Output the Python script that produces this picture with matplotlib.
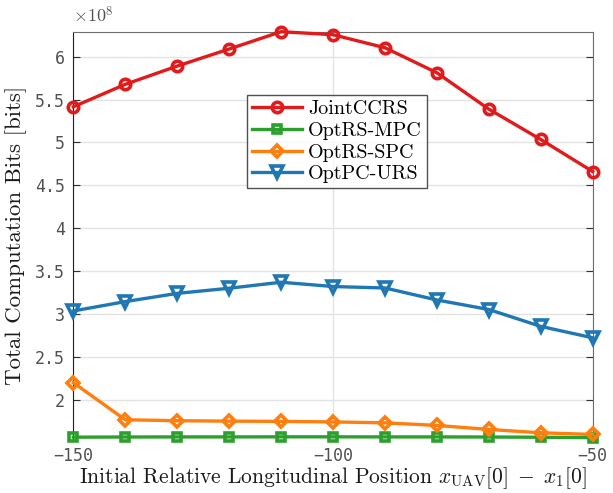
import matplotlib
matplotlib.use('Agg')
import matplotlib.pyplot as plt
import numpy as np

# initial relative longitudinal position x_UAV[0] - x_1[0]
positions = [-150, -140, -130, -120, -110, -100, -90, -80, -70, -60, -50]

# total computation bits, in units of 1e8 bits
joint_ccrs = [5.416, 5.678, 5.891, 6.090, 6.292, 6.257, 6.105, 5.813, 5.389, 5.035, 4.661]
optrs_mpc = [1.563, 1.565, 1.566, 1.566, 1.567, 1.567, 1.566, 1.566, 1.565, 1.562, 1.558]
optrs_spc = [2.199, 1.766, 1.755, 1.750, 1.747, 1.741, 1.730, 1.700, 1.653, 1.614, 1.595]
optpc_urs = [3.035, 3.144, 3.240, 3.300, 3.370, 3.320, 3.303, 3.163, 3.052, 2.855, 2.722]

y_ticks = [2, 2.5, 3, 3.5, 4, 4.5, 5, 5.5, 6]
x_ticks = [-150, -100, -50]

series = [
    ('JointCCRS', joint_ccrs, '#e31a1c', 'o', 7.5),
    ('OptRS-MPC', optrs_mpc, '#2ca02c', 's', 6.0),
    ('OptRS-SPC', optrs_spc, '#ff7f0e', 'D', 6.5),
    ('OptPC-URS', optpc_urs, '#1f77b4', 'v', 8.0),
]

plt.rcParams['mathtext.fontset'] = 'cm'
label_font = 'cmr10'
tick_font = 'DejaVu Sans Mono'
tick_color = '#505050'

fig = plt.figure(figsize=(6.13, 4.93), dpi=100)
ax = fig.add_axes([0.1196, 0.1075, 0.8473, 0.8282])

for name, values, color, marker, ms in series:
    ax.plot(positions, values, color=color, linewidth=2.4, marker=marker,
            markersize=ms, markerfacecolor='none', markeredgecolor=color,
            markeredgewidth=2.6, label=name, clip_on=False, zorder=3)

ax.set_xlim(-150, -50)
ax.set_ylim(1.53, 6.292)
ax.set_xticks(x_ticks)
ax.set_yticks(y_ticks)
ax.set_xticklabels([str(v).replace('-', '\u2212') for v in x_ticks],
                   fontfamily=tick_font, fontsize=12, color=tick_color)
ax.set_yticklabels(['{:g}'.format(v) for v in y_ticks],
                   fontfamily=tick_font, fontsize=12, color=tick_color)
ax.tick_params(axis='y', direction='in', length=5, left=True, right=True,
               color='#303030', pad=6)
ax.tick_params(axis='x', length=0, pad=5)

ax.grid(True, color='#e3e3e3', linewidth=1.0)
ax.set_axisbelow(True)
ax.spines['bottom'].set_visible(False)
ax.spines['left'].set_color('#202020')
ax.spines['right'].set_color('#6e6e6e')
ax.spines['top'].set_color('#6e6e6e')

# exponent marker for the y axis
ax.text(0.0, 1.012, r'$\times 10^{8}$', transform=ax.transAxes,
        fontsize=13, color=tick_color, ha='left', va='bottom')

ax.set_xlabel(r'Initial Relative Longitudinal Position $x_{\mathrm{UAV}}[0]\;-\;x_1[0]$',
              fontfamily=label_font, fontsize=15.5, color='#1a1a1a', labelpad=0)
ax.set_ylabel('Total Computation Bits [bits]', fontfamily=label_font,
              fontsize=16.5, color='#1a1a1a', labelpad=6)

leg = ax.legend(loc='upper left', bbox_to_anchor=(0.334, 0.845),
                prop={'family': label_font, 'size': 14.5}, frameon=True,
                fancybox=False, handlelength=2.5, handletextpad=0.3,
                borderpad=0.25, labelspacing=0.18, borderaxespad=0)
leg.get_frame().set_edgecolor('#262626')
leg.get_frame().set_linewidth(1.0)

fig.savefig('out.png', dpi=100)
